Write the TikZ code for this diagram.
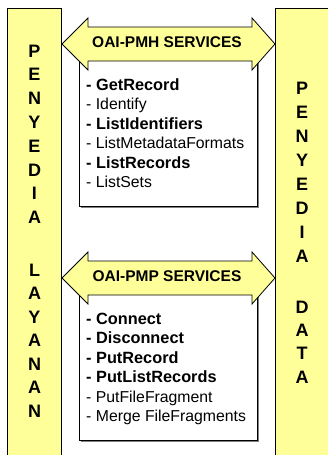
\documentclass[tikz,border=0pt]{standalone}
\usepackage{fontspec}
\setmainfont{Liberation Sans}
\definecolor{panelyellow}{HTML}{FFFF99}
\definecolor{shadowgray}{HTML}{808080}
\begin{document}
\begin{tikzpicture}[x=1pt,y=-1pt,
  colbox/.style={draw=black, line width=0.8pt, fill=panelyellow},
  arrowshape/.style={draw=black, line width=0.8pt, fill=panelyellow, line join=miter},
  listbox/.style={draw=black, line width=0.8pt, fill=white},
  boxshadow/.style={fill=shadowgray},
  letter/.style={font=\fontsize{18}{20}\selectfont\bfseries, inner sep=0pt, anchor=center},
  svclabel/.style={font=\fontsize{15.5}{18}\selectfont\bfseries, inner sep=0pt, anchor=center},
  itemreg/.style={font=\fontsize{15.8}{19}\selectfont, inner sep=0pt, anchor=base west},
  itembold/.style={font=\fontsize{16.3}{19}\selectfont\bfseries, inner sep=0pt, anchor=base west}
]
\useasboundingbox (0,0) rectangle (328,455);
\clip (0,0) rectangle (328,455);
\fill[white] (0,0) rectangle (328,455);

% side columns
\draw[colbox] (7.5,8) rectangle (61.5,462);
\draw[colbox] (275,8) rectangle (332,462);

% left column letters
\foreach \ch/\yy [count=\i] in {P/51,E/74.8,N/98.6,Y/122.4,E/146.2,D/170,I/193.8,A/217.6,
  L/270,A/293.5,Y/317,A/340.5,N/364,A/387.5,N/411}
  \node[letter] (left\i) at (34.5,\yy) {\ch};

% right column letters
\foreach \ch/\yy [count=\i] in {P/88,E/112,N/136,Y/160,E/184,D/208,I/232,A/256,
  D/307,A/330.3,T/353.6,A/377}
  \node[letter] (right\i) at (302,\yy) {\ch};

% box 1 (OAI-PMH)
\fill[boxshadow] (80.5,56.5) rectangle (258.5,207.5);
\draw[listbox] (79,55) rectangle (257,206);
\draw[arrowshape] (62,44) -- (88,18) -- (88,27) -- (252,27) -- (252,18) -- (275,44)
  -- (252,70) -- (252,61) -- (88,61) -- (88,70) -- cycle;
\node[svclabel] (pmh) at (167,42.5) {OAI-PMH SERVICES};
\node[itembold] (pmh1) at (86,90) {- GetRecord};
\node[itemreg]  (pmh2) at (86,109.5) {- Identify};
\node[itembold] (pmh3) at (86,129) {- ListIdentifiers};
\node[itemreg]  (pmh4) at (86,148.5) {- ListMetadataFormats};
\node[itembold] (pmh5) at (86,168) {- ListRecords};
\node[itemreg]  (pmh6) at (86,187.5) {- ListSets};

% box 2 (OAI-PMP)
\fill[boxshadow] (80.5,290.5) rectangle (258.5,441.5);
\draw[listbox] (79,289) rectangle (257,440);
\draw[arrowshape] (62,278) -- (88,252) -- (88,261) -- (252,261) -- (252,252) -- (275,278)
  -- (252,304) -- (252,295) -- (88,295) -- (88,304) -- cycle;
\node[svclabel] (pmp) at (167,276.5) {OAI-PMP SERVICES};
\node[itembold] (pmp1) at (86,324) {- Connect};
\node[itembold] (pmp2) at (86,343.5) {- Disconnect};
\node[itembold] (pmp3) at (86,363) {- PutRecord};
\node[itembold] (pmp4) at (86,382.5) {- PutListRecords};
\node[itemreg]  (pmp5) at (86,402) {- PutFileFragment};
\node[itemreg]  (pmp6) at (86,421.5) {- Merge FileFragments};
\end{tikzpicture}
\end{document}
